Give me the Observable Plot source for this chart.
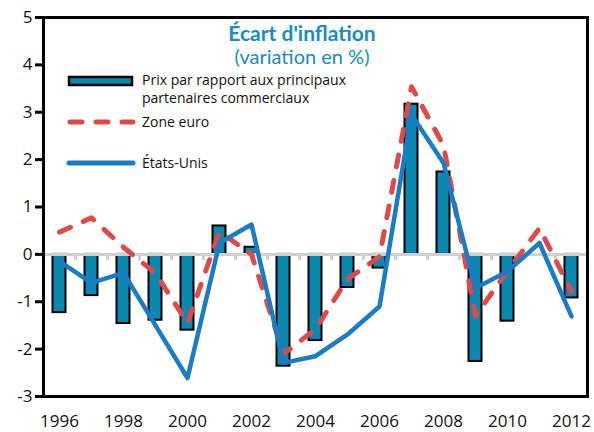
<!DOCTYPE html>
<html><head><meta charset="utf-8">
<script src="https://cdn.jsdelivr.net/npm/d3@7"></script>
<script src="https://cdn.jsdelivr.net/npm/@observablehq/plot@0.6"></script>
<style>body{margin:0;background:#fff}#chart{position:relative;width:594px;height:432px}</style>
</head><body><div id="chart"></div>
<script>
const years = [1996,1997,1998,1999,2000,2001,2002,2003,2004,2005,2006,2007,2008,2009,2010,2011,2012];
const prix = [-1.23,-0.87,-1.46,-1.39,-1.60,0.60,0.15,-2.36,-1.82,-0.70,-0.29,3.17,1.74,-2.26,-1.41,0,-0.92];
const zoneEuro = [0.47,0.77,0.15,-0.40,-1.45,0.48,0.0,-2.10,-1.58,-0.52,-0.05,3.54,2.30,-1.30,-0.35,0.55,-0.78];
const etatsUnis = [-0.15,-0.60,-0.39,-1.50,-2.61,0.24,0.63,-2.29,-2.15,-1.69,-1.10,2.95,1.93,-0.71,-0.36,0.24,-1.31];
const yTicks = [-3,-2,-1,0,1,2,3,4,5];
const xTickYears = [1996,1998,2000,2002,2004,2006,2008,2010,2012];
const title = "Écart d'inflation";
const subtitle = "(variation en %)";
const seriesNames = ["Prix par rapport aux principaux", "partenaires commerciaux", "Zone euro", "États-Unis"];

const colBar = "#0a88b0", colRed = "#de4a4a", colBlue = "#1a7cc4", colTitle = "#1a8cbc";

const data = years.map((y, i) => ({year: y, prix: prix[i], euro: zoneEuro[i], us: etatsUnis[i]}));

const plot = Plot.plot({
  width: 594, height: 432,
  marginLeft: 43, marginRight: 7, marginTop: 17, marginBottom: 36,
  style: {fontFamily: "Open Sans", fontSize: "17px", color: "#111", background: "#fff"},
  x: {type: "band", domain: years, paddingInner: 0, paddingOuter: 0},
  y: {domain: [-3, 5]},
  marks: [
    Plot.barY(data, {x: "year", y: "prix", fill: colBar, stroke: "#000", strokeWidth: 2, insetLeft: 9.5, insetRight: 9.5}),
    Plot.ruleY([0], {stroke: "#d0d0d0", strokeWidth: 3}),
    Plot.ruleX(years, {x: d => d, y1: 0, y2: -0.13, stroke: "#d0d0d0", strokeWidth: 3, dx: -16}),
    Plot.ruleX([years[years.length - 1]], {x: d => d, y1: 0, y2: -0.13, stroke: "#d0d0d0", strokeWidth: 3, dx: 16}),
    Plot.line(data, {x: "year", y: "euro", stroke: colRed, strokeWidth: 5, strokeDasharray: "12,14", strokeLinecap: "round"}),
    Plot.line(data, {x: "year", y: "us", stroke: colBlue, strokeWidth: 4.5, strokeLinejoin: "round"}),
    Plot.frame({stroke: "#000", strokeWidth: 3}),
    Plot.axisY({ticks: yTicks, tickFormat: d => String(d), tickSize: 8, tickPadding: 3, strokeWidth: 3, stroke: "#000", label: null, fontSize: 17}),
    Plot.axisX({ticks: xTickYears, tickFormat: d => String(d), tickSize: 0, tickPadding: 18, label: null, fontSize: 17})
  ]
});
document.getElementById("chart").appendChild(plot);

const svg = d3.select(plot);
const g = svg.append("g").attr("font-family", "'Open Sans'").attr("text-anchor", "start");
g.append("text").attr("x", 302).attr("y", 41).attr("text-anchor", "middle")
  .attr("font-family", "Lato").attr("font-weight", "bold").attr("font-size", 21).attr("fill", colTitle).text(title);
g.append("text").attr("x", 302).attr("y", 64).attr("text-anchor", "middle")
  .attr("font-family", "Lato").attr("font-size", 20).attr("fill", colTitle).text(subtitle);
// legend
g.append("rect").attr("x", 69).attr("y", 77).attr("width", 63).attr("height", 8)
  .attr("fill", colBar).attr("stroke", "#000").attr("stroke-width", 2.5);
g.append("text").attr("x", 142).attr("y", 85).attr("font-size", 14).attr("fill", "#111").text(seriesNames[0]);
g.append("text").attr("x", 142).attr("y", 103).attr("font-size", 14).attr("fill", "#111").text(seriesNames[1]);
g.append("line").attr("x1", 70).attr("x2", 133).attr("y1", 122).attr("y2", 122)
  .attr("stroke", colRed).attr("stroke-width", 5).attr("stroke-dasharray", "12,14").attr("stroke-linecap", "round");
g.append("text").attr("x", 142).attr("y", 127).attr("font-size", 14).attr("fill", "#111").text(seriesNames[2]);
g.append("line").attr("x1", 69).attr("x2", 133).attr("y1", 163).attr("y2", 163)
  .attr("stroke", colBlue).attr("stroke-width", 5).attr("stroke-linecap", "round");
g.append("text").attr("x", 142).attr("y", 168).attr("font-size", 14).attr("fill", "#111").text(seriesNames[3]);
</script></body></html>
